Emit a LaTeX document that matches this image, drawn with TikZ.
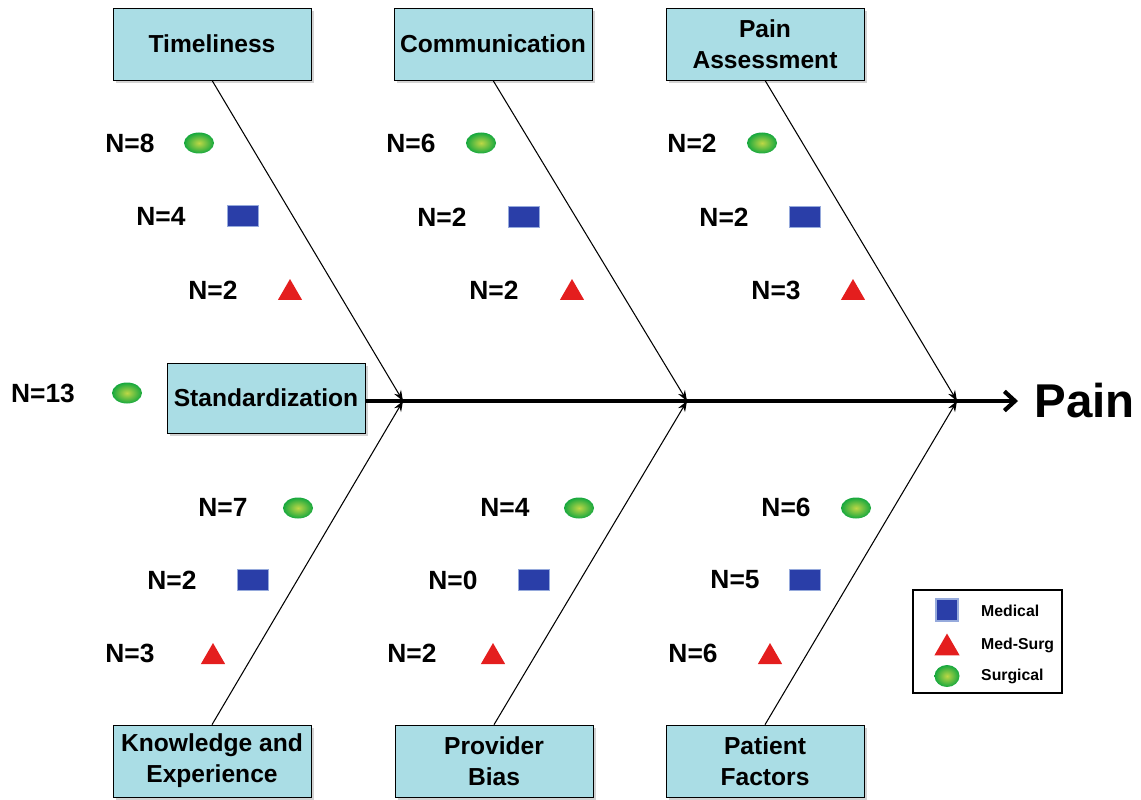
\documentclass[tikz,border=0pt]{standalone}
\usepackage{fontspec}
\setmainfont{Liberation Sans}
\usetikzlibrary{shapes.geometric, arrows.meta, positioning, calc, shadows}

\definecolor{boxcyan}{RGB}{170,221,229}
\definecolor{medblue}{RGB}{42,62,168}
\definecolor{medrim}{RGB}{150,170,220}
\definecolor{msred}{RGB}{228,30,30}
\definecolor{surggreen}{RGB}{22,168,62}
\definecolor{surglight}{RGB}{190,215,70}

\begin{document}
\begin{tikzpicture}[x=0.02cm, y=-0.02cm,
  cause/.style={draw, fill=boxcyan, minimum width=3.96cm, minimum height=1.44cm, align=center, font=\bfseries\fontsize{14}{17.5}\selectfont, drop shadow={shadow xshift=1.5pt, shadow yshift=-1.5pt, opacity=0.35}},
  ntext/.style={font=\bfseries\fontsize{15}{18}\selectfont},
  legtext/.style={anchor=west, font=\bfseries\fontsize{9}{11}\selectfont},
  surgical/.style={ellipse, inner color=surglight, outer color=surggreen, minimum width=0.6cm, minimum height=0.42cm, inner sep=0pt},
  medical/.style={rectangle, fill=medblue, draw=medrim, line width=1pt, minimum width=0.62cm, minimum height=0.42cm, inner sep=0pt},
  medsurg/.style={regular polygon, regular polygon sides=3, fill=msred, minimum size=0.56cm, inner sep=0pt},
  bone/.style={-{Stealth[length=6pt, width=4.5pt]}, line width=0.6pt}]
  \useasboundingbox (0,0) rectangle (1141,800);

  % cause boxes
  \node (tim) [cause] at (212,44) {Timeliness};
  \node (com) [cause] at (493,44) {Communication};
  \node (pas) [cause] at (765,44) {Pain\\Assessment};
  \node (std) [cause, minimum height=1.4cm] at (266,398) {Standardization};
  \node (kne) [cause] at (212,761) {Knowledge and\\Experience};
  \node (pbi) [cause] at (494,761) {Provider\\Bias};
  \node (pfa) [cause] at (765,761) {Patient\\Factors};

  \coordinate (j1) at (403,401);
  \coordinate (j2) at (687,401);
  \coordinate (j3) at (957,401);
  \coordinate (tip) at (1018,401);
  \node (pain) [right=0.32cm of tip, inner sep=0pt, font=\bfseries\fontsize{27}{30}\selectfont] {Pain};

  % spine and bones
  \draw[line width=2.4pt, -{Straight Barb[length=6pt, width=11pt]}] (std.east |- j1) -- (tip);
  \draw[bone] (tim.south) -- (j1);
  \draw[bone] (com.south) -- (j2);
  \draw[bone] (pas.south) -- (j3);
  \draw[bone] (kne.north) -- (j1);
  \draw[bone] (pbi.north) -- (j2);
  \draw[bone] (pfa.north) -- (j3);

  % timeliness
  \node (timcs) [ntext] at (130,143) {N=8};
  \node (tims) [surgical] at (199,143) {};
  \node (timcm) [ntext] at (161,216) {N=4};
  \node (timm) [medical] at (243,216) {};
  \node (timcx) [ntext] at (213,290) {N=2};
  \node (timx) [medsurg] at (290,293) {};

  % communication
  \node (comcs) [ntext] at (411,143) {N=6};
  \node (coms) [surgical] at (481,143) {};
  \node (comcm) [ntext] at (442,217) {N=2};
  \node (comm) [medical] at (524,217) {};
  \node (comcx) [ntext] at (494,290) {N=2};
  \node (comx) [medsurg] at (572,293) {};

  % pain assessment
  \node (pascs) [ntext] at (692,143) {N=2};
  \node (pass) [surgical] at (762,143) {};
  \node (pascm) [ntext] at (724,217) {N=2};
  \node (pasm) [medical] at (805,217) {};
  \node (pascx) [ntext] at (776,290) {N=3};
  \node (pasx) [medsurg] at (853,293) {};

  % standardization
  \node (stdcs) [ntext] at (43,393) {N=13};
  \node (stds) [surgical] at (127,393) {};

  % knowledge and experience
  \node (knecs) [ntext] at (223,507) {N=7};
  \node (knes) [surgical] at (298,508) {};
  \node (knecm) [ntext] at (172,580) {N=2};
  \node (knem) [medical] at (253,580) {};
  \node (knecx) [ntext] at (130,653) {N=3};
  \node (knex) [medsurg] at (213,657) {};

  % provider bias
  \node (pbics) [ntext] at (505,507) {N=4};
  \node (pbis) [surgical] at (579,508) {};
  \node (pbicm) [ntext] at (453,580) {N=0};
  \node (pbim) [medical] at (534,580) {};
  \node (pbicx) [ntext] at (412,653) {N=2};
  \node (pbix) [medsurg] at (493,657) {};

  % patient factors
  \node (pfacs) [ntext] at (786,507) {N=6};
  \node (pfas) [surgical] at (856,508) {};
  \node (pfacm) [ntext] at (735,580) {N=5};
  \node (pfam) [medical] at (805,580) {};
  \node (pfacx) [ntext] at (693,653) {N=6};
  \node (pfax) [medsurg] at (770,657) {};

  % legend
  \node (legend) [draw, line width=1.2pt, minimum width=2.98cm, minimum height=2.06cm] at (987.5,641.5) {};
  \node (lgm) [medical, minimum width=0.44cm, minimum height=0.44cm] at (947,610) {};
  \node (lgx) [medsurg, minimum size=0.58cm] at (947,648) {};
  \node (lgs) [surgical, minimum width=0.5cm, minimum height=0.44cm] at (947,676) {};
  \node (lgmt) [legtext] at (975,611) {Medical};
  \node (lgxt) [legtext] at (975,645) {Med-Surg};
  \node (lgst) [legtext] at (975,676) {Surgical};
\end{tikzpicture}
\end{document}
